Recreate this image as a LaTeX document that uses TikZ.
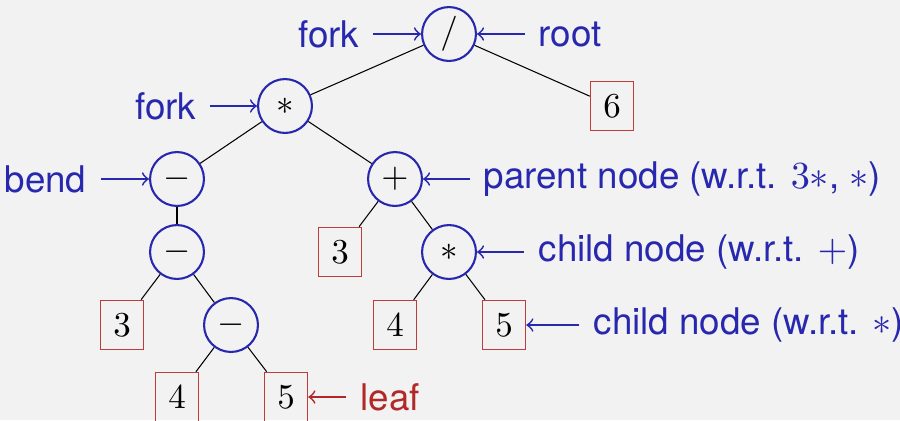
\documentclass[tikz,border=0pt]{standalone}
\usepackage{fontspec}
\setmainfont{TeX Gyre Heros}
\definecolor{bgc}{RGB}{242,242,242}
\definecolor{tblue}{RGB}{40,40,175}
\definecolor{tred}{RGB}{178,40,40}
\definecolor{bred}{RGB}{190,60,60}
\begin{document}
\begin{tikzpicture}[x=0.2857pt,y=-0.2857pt,
  opnode/.style={circle,draw=tblue,line width=0.6pt,minimum size=15.4pt,inner sep=0pt},
  leafnode/.style={rectangle,draw=bred,line width=0.45pt,minimum width=12.3pt,minimum height=14pt,inner sep=0pt},
  lbl/.style={text=tblue,inner sep=0pt,font=\fontsize{10.5pt}{12pt}\selectfont},
  rlbl/.style={text=tred,inner sep=0pt,font=\fontsize{10.5pt}{12pt}\selectfont},
  ptr/.style={draw=tblue,line width=0.5pt,-to},
  rptr/.style={draw=tred,line width=0.5pt,-to},
  edge/.style={draw=black,line width=0.3pt}]
\fill[bgc] (0,0) rectangle (900,420);
\useasboundingbox (0,0) rectangle (900,420);
\clip (0,0) rectangle (900,420);
% tree nodes
\node[opnode] (root) at (449,34) {$/$};
\node[opnode] (mul) at (285,106) {$*$};
\node[leafnode] (six) at (612,106) {$6$};
\node[opnode] (bend) at (177,179) {$-$};
\node[opnode] (plus) at (395,179) {$+$};
\node[opnode] (minA) at (177,252) {$-$};
\node[leafnode] (threeB) at (340,252) {$3$};
\node[opnode] (mulB) at (449,252) {$*$};
\node[leafnode] (threeA) at (122,325) {$3$};
\node[opnode] (minB) at (231,325) {$-$};
\node[leafnode] (fourB) at (395,325) {$4$};
\node[leafnode] (fiveB) at (504,325) {$5$};
\node[leafnode] (fourA) at (177,397) {$4$};
\node[leafnode] (fiveA) at (286,397) {$5$};
% edges
\draw[edge] (root) -- (mul);
\draw[edge] (root) -- (six);
\draw[edge] (mul) -- (bend);
\draw[edge] (mul) -- (plus);
\draw[edge] (bend) -- (minA);
\draw[edge] (minA) -- (threeA);
\draw[edge] (minA) -- (minB);
\draw[edge] (minB) -- (fourA);
\draw[edge] (minB) -- (fiveA);
\draw[edge] (plus) -- (threeB);
\draw[edge] (plus) -- (mulB);
\draw[edge] (mulB) -- (fourB);
\draw[edge] (mulB) -- (fiveB);
% labels
\node[lbl,anchor=east] (forkA) at (360,34) {fork};
\coordinate (forkAe) at (373,34);
\node[lbl,anchor=west] (rootl) at (538,34) {root};
\coordinate (rootle) at (525,34);
\node[lbl,anchor=east] (forkB) at (197,106) {fork};
\coordinate (forkBe) at (210,106);
\node[lbl,anchor=east] (bendl) at (87,179) {bend};
\coordinate (bendle) at (101,179);
\node[lbl,anchor=west] (parl) at (483,179) {parent node (w.r.t. $3*$, $*$)};
\coordinate (parle) at (470,179);
\node[lbl,anchor=west] (childA) at (538,252) {child node (w.r.t. $+$)};
\coordinate (childAe) at (524,252);
\node[lbl,anchor=west] (childB) at (593,325) {child node (w.r.t. $*$)};
\coordinate (childBe) at (579,325);
\node[rlbl,anchor=west] (leafl) at (360,397) {leaf};
\coordinate (leafle) at (346,397);
% pointers
\draw[ptr] (forkAe) -- (root);
\draw[ptr] (rootle) -- (root);
\draw[ptr] (forkBe) -- (mul);
\draw[ptr] (bendle) -- (bend);
\draw[ptr] (parle) -- (plus);
\draw[ptr] (childAe) -- (mulB);
\draw[ptr] (childBe) -- (fiveB);
\draw[rptr] (leafle) -- (fiveA);
\end{tikzpicture}
\end{document}
